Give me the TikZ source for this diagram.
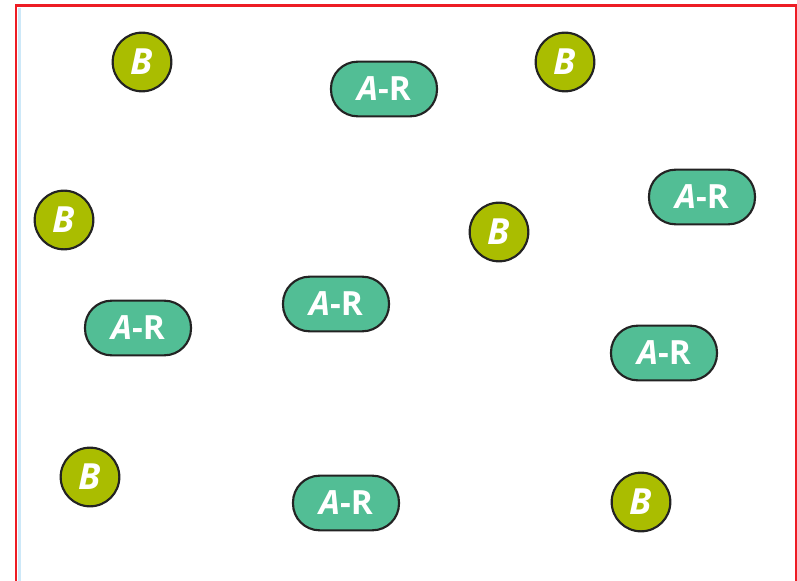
\documentclass[tikz,border=0pt]{standalone}
\usepackage{fontspec}
\setmainfont{Open Sans}
\usepackage{xcolor}
\usetikzlibrary{positioning}
\definecolor{receptorgreen}{RGB}{82,190,149}
\definecolor{ligandolive}{RGB}{170,189,0}
\definecolor{outline}{RGB}{35,35,35}
\definecolor{framered}{RGB}{237,28,36}
\definecolor{edgeblue}{RGB}{205,232,248}

\begin{document}
\begin{tikzpicture}[
    x=0.75pt, y=-0.75pt,
    ligand/.style={draw=outline, circle, fill=ligandolive, line width=1.6pt, minimum size=44pt, inner sep=0pt, text=white, font=\fontsize{27}{27}\selectfont\bfseries\itshape},
    complex/.style={draw=outline, rounded corners=20pt, fill=receptorgreen, line width=1.6pt, minimum width=79.5pt, minimum height=41pt, inner sep=0pt, text=white, font=\fontsize{25}{25}\selectfont\bfseries}
]

% Canvas
\useasboundingbox (0,0) rectangle (797,581);
\clip (0,0) rectangle (797,581);

% Frame
\draw[edgeblue, line width=2.2pt] (19.5,8) -- (19.5,600);
\draw[framered, line width=1.6pt] (16,5.5) rectangle (796,620);

% Free ligands
\node[ligand] (b1) at (142,62) {B};
\node[ligand] (b2) at (565,62) {B};
\node[ligand] (b3) at (64,220) {B};
\node[ligand] (b4) at (499,232) {B};
\node[ligand] (b5) at (90,477) {B};
\node[ligand] (b6) at (641,502) {B};

% Receptor complexes
\node[complex] (ar1) at (384,89) {\textit{A}-R};
\node[complex] (ar2) at (702,197) {\textit{A}-R};
\node[complex] (ar3) at (336,304) {\textit{A}-R};
\node[complex] (ar4) at (138,328) {\textit{A}-R};
\node[complex] (ar5) at (664,353) {\textit{A}-R};
\node[complex] (ar6) at (346,503) {\textit{A}-R};

\end{tikzpicture}
\end{document}
